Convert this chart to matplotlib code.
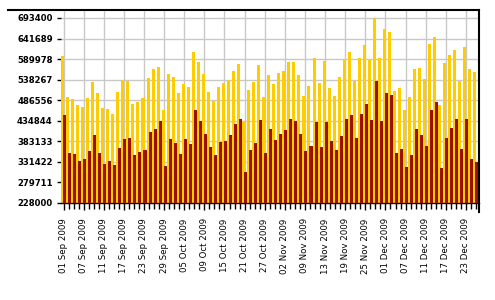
import matplotlib
matplotlib.use('Agg')
import matplotlib.pyplot as plt
from matplotlib.lines import Line2D
import numpy as np
import pandas as pd

# trading days shown (one day missing in early November)
dates = pd.bdate_range('2009-09-01', '2009-12-25').drop(pd.Timestamp('2009-11-05'))
day_labels = list(dates.strftime('%d %b %Y'))

upper_vals = [597800, 493800, 489600, 474600, 469500, 492200, 532400, 504700, 467000, 464500,
              451900, 507300, 537400, 534900, 477100, 482100, 492200, 542500, 565100, 570100,
              462000, 552500, 545000, 504700, 527400, 519800, 607900, 582700, 552500, 507300,
              484600, 519800, 529900, 537400, 560100, 577700, 434300, 512300, 532400, 575200,
              494700, 550000, 527400, 555000, 560100, 582700, 582700, 550000, 497200, 522300,
              592800, 529900, 585200, 517300, 497200, 545000, 587700, 607900, 534900, 592800,
              625500, 590300, 693400, 592800, 665700, 658200, 509800, 517300, 462000, 494700,
              565100, 567600, 540000, 628000, 645600, 474600, 580200, 600300, 612900, 534900,
              620500, 565100, 557600]

lower_vals = [449400, 353000, 351300, 333700, 338700, 358800, 399100, 353800, 326100, 333700,
              323600, 366400, 389000, 391500, 348800, 356300, 361400, 406600, 414200, 434300,
              321100, 389000, 379000, 351300, 389000, 376400, 462000, 434300, 401600, 368900,
              348800, 381500, 384000, 399100, 426800, 439300, 306000, 361400, 379000, 436800,
              353800, 414200, 386500, 401600, 411700, 439300, 434300, 401600, 358800, 371400,
              431800, 368900, 431800, 384000, 361400, 396600, 439300, 449400, 391500, 451900,
              477100, 436800, 534900, 434300, 504700, 499700, 353800, 363900, 318600, 348800,
              414200, 399100, 371400, 462000, 482100, 316100, 391500, 416700, 439300, 363900,
              439300, 338700, 331200]

y_ticks = [228000, 279711, 331422, 383133, 434844, 486556, 538267, 589978, 641689, 693400]

W, H = 495, 300
fig = plt.figure(figsize=(W / 100, H / 100), dpi=100)
ax = fig.add_axes([61 / W, 1 - 203 / H, (478.5 - 61) / W, 193 / H])

x = np.arange(len(upper_vals))
ax.bar(x - 0.2, upper_vals, width=0.6, color='#ffcc00', linewidth=0, zorder=2)
ax.bar(x + 0.2, lower_vals, width=0.6, color='#9c1000', linewidth=0, zorder=3)

ax.set_xlim(-0.5, len(x) - 0.5)
ax.set_ylim(228000, 713500)

ax.set_yticks(y_ticks)
ax.set_yticklabels([str(v) for v in y_ticks], fontsize=6.1, fontweight='bold')
ax.set_xticks(x[::4])
ax.set_xticklabels(day_labels[::4], rotation=90, fontsize=6.2)
ax.set_xticks(x, minor=True)
ax.tick_params(axis='x', which='major', direction='out', length=5, width=1, pad=6)
ax.tick_params(axis='x', which='minor', direction='out', length=4, width=1)
ax.tick_params(axis='y', direction='out', length=3, width=1, pad=3)

ax.grid(True, color='#c8c8c8', linewidth=1)
ax.set_axisbelow(True)

for side in ['top', 'right', 'left']:
    ax.spines[side].set_visible(False)
ax.spines['bottom'].set_linewidth(1)

# frame lines that run past the plot area
fig.add_artist(Line2D([8 / W, 478.5 / W], [1 - 10 / H, 1 - 10 / H], color='black', linewidth=1.5))
fig.add_artist(Line2D([478.5 / W, 478.5 / W], [1 - 10 / H, 1 - 212 / H], color='black', linewidth=1.5))

fig.savefig('out.png', dpi=100)
